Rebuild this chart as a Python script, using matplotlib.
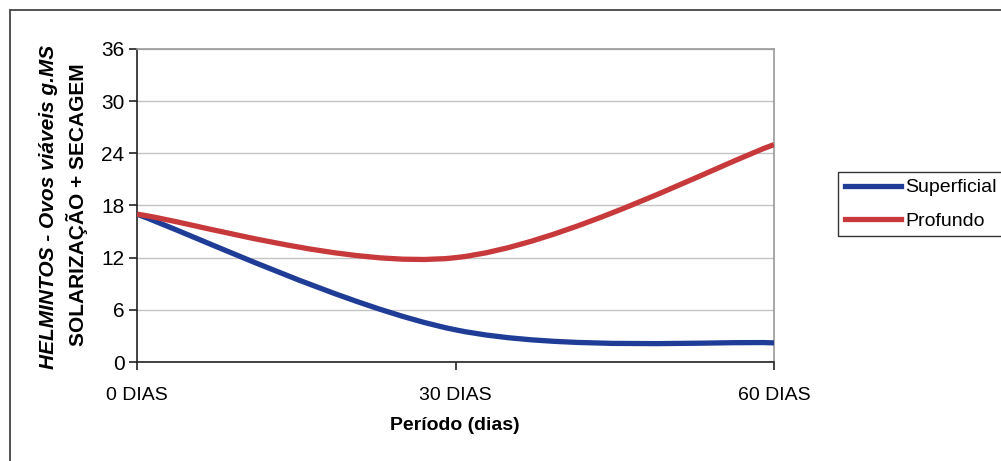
import matplotlib
matplotlib.use("Agg")
import matplotlib.pyplot as plt
from matplotlib.path import Path
from matplotlib.patches import PathPatch, Rectangle
from matplotlib.lines import Line2D

plt.rcParams["font.family"] = ["Liberation Sans", "DejaVu Sans"]

# Dados
dias = [0, 30, 60]
rotulos = ["0 DIAS", "30 DIAS", "60 DIAS"]
superficial = [17.0, 3.7, 2.2]
profundo = [17.0, 12.0, 25.0]
y_ticks = [0, 6, 12, 18, 24, 30, 36]

azul = "#1f3d96"
vermelho = "#c8393b"


def curva_suave(x, y):
    """Bezier estilo Excel (linha suavizada) pelos pontos dados."""
    pts = list(zip(x, y))
    n = len(pts)
    verts = [pts[0]]
    codes = [Path.MOVETO]
    for i in range(n - 1):
        p0 = pts[max(i - 1, 0)]
        p1 = pts[i]
        p2 = pts[i + 1]
        p3 = pts[min(i + 2, n - 1)]
        c1 = (p1[0] + (p2[0] - p0[0]) / 6, p1[1] + (p2[1] - p0[1]) / 6)
        c2 = (p2[0] - (p3[0] - p1[0]) / 6, p2[1] - (p3[1] - p1[1]) / 6)
        verts += [c1, c2, p2]
        codes += [Path.CURVE4] * 3
    return Path(verts, codes)


W, H = 1001, 461
fig = plt.figure(figsize=(W / 100, H / 100), dpi=100)
ax = fig.add_axes([137 / W, 99 / H, 637 / W, 313 / H])

for serie, cor in [(superficial, azul), (profundo, vermelho)]:
    ax.add_patch(PathPatch(curva_suave(dias, serie), fill=False,
                           edgecolor=cor, lw=3.8, capstyle="butt",
                           joinstyle="round", zorder=3))

ax.set_xlim(0, 60)
ax.set_ylim(0, 36)
ax.set_yticks(y_ticks)
ax.set_xticks(dias)
ax.set_xticklabels(rotulos)
ax.yaxis.grid(True, color="#c4c4c4", lw=1)
ax.set_axisbelow(True)

for s in ["top", "right"]:
    ax.spines[s].set_color("#9a9a9a")
    ax.spines[s].set_linewidth(1.2)
for s in ["left", "bottom"]:
    ax.spines[s].set_color("#222222")
    ax.spines[s].set_linewidth(1.2)

ax.tick_params(axis="y", length=6, width=1.2, color="#222222", pad=3, labelsize=15)
ax.tick_params(axis="x", length=6, width=1.2, color="#222222", pad=12, labelsize=14)

# Legenda
handles = [Line2D([], [], color=azul, lw=3.8), Line2D([], [], color=vermelho, lw=3.8)]
leg = fig.legend(handles, ["Superficial", "Profundo"], loc="upper left",
                 bbox_to_anchor=(838 / W, 1 - 172 / H), frameon=True,
                 fancybox=False, edgecolor="black", fontsize=14,
                 handlelength=2.9, handletextpad=0.2, borderpad=0.35,
                 labelspacing=0.8, borderaxespad=0)
leg.get_frame().set_linewidth(1)

# Titulos dos eixos
fig.text(49 / W, 1 - 207 / H, "HELMINTOS - Ovos viáveis g.MS", rotation=90,
         ha="center", va="center", fontsize=15, fontweight="bold", style="italic")
fig.text(77 / W, 1 - 205 / H, "SOLARIZAÇÃO + SECAGEM", rotation=90,
         ha="center", va="center", fontsize=15, fontweight="bold")
fig.text(455 / W, 1 - 425 / H, "Período (dias)", ha="center", va="center",
         fontsize=14, fontweight="bold")

# Moldura externa (cortada a direita e embaixo)
fig.add_artist(Rectangle((10 / W, -0.1), 1.2, 1 - 10 / H + 0.1,
                         transform=fig.transFigure, fill=False,
                         edgecolor="#444444", lw=1.3))

fig.savefig("out.png", dpi=100)
